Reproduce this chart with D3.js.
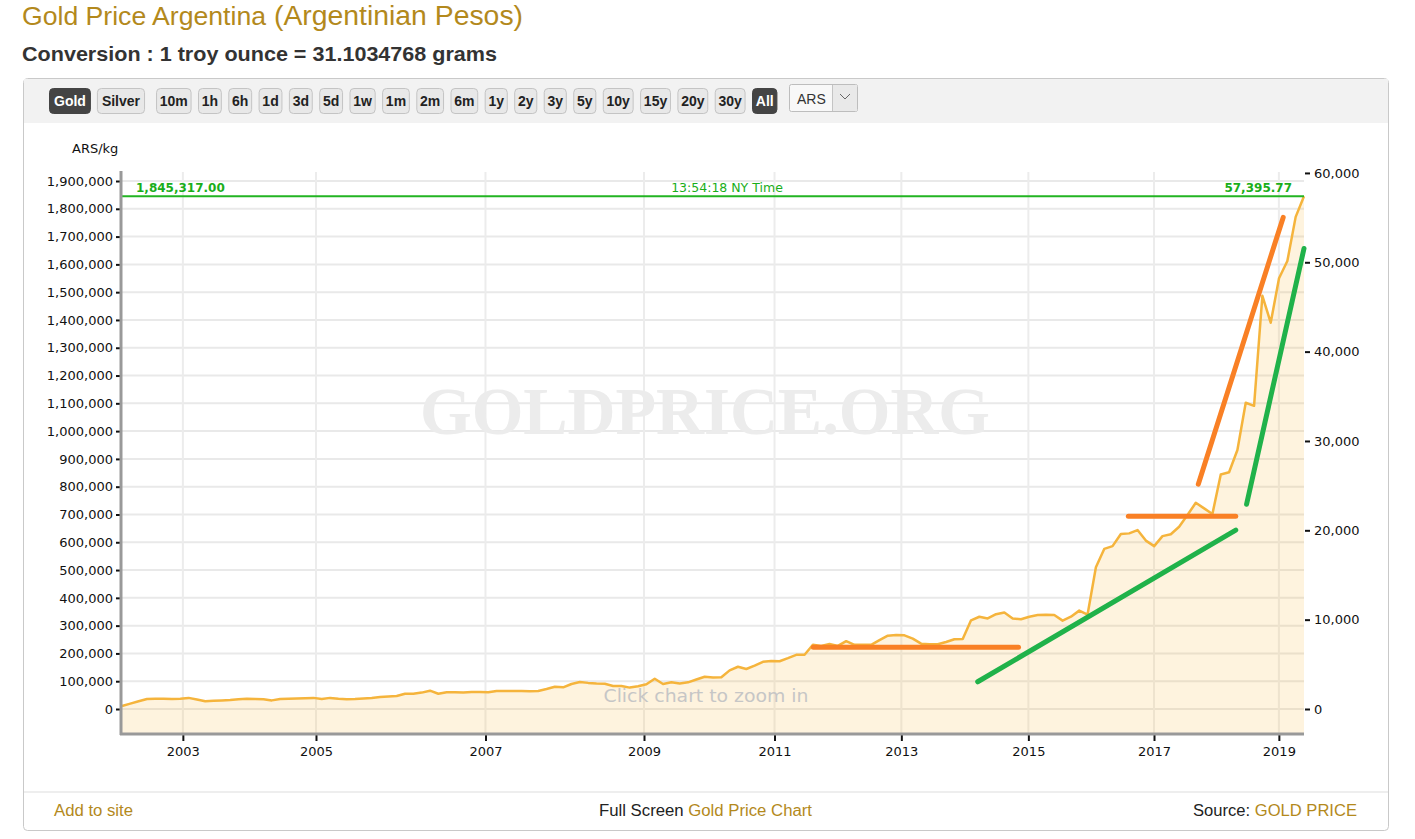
<!DOCTYPE html>
<html><head><meta charset="utf-8">
<script src="https://cdn.jsdelivr.net/npm/d3@7"></script>
<style>html,body{margin:0;padding:0;background:#fff;} svg{display:block;}</style>
</head><body><svg id="c" width="1415" height="839"></svg>
<script>
// ---------------- DATA ----------------
const pointDates = [
 "2002-02-06","2002-03-23","2002-05-07","2002-06-21","2002-08-05","2002-09-19","2002-11-03","2002-12-18",
 "2003-02-01","2003-03-19","2003-05-04","2003-06-19","2003-08-04","2003-09-19","2003-11-04","2003-12-20",
 "2004-02-04","2004-03-21","2004-05-06","2004-06-21","2004-08-06","2004-09-21","2004-11-06","2004-12-18",
 "2005-02-02","2005-03-09","2005-04-13","2005-05-18","2005-06-22","2005-07-27","2005-08-31","2005-10-05",
 "2005-11-09","2005-12-14","2006-01-18","2006-02-22","2006-03-29","2006-05-03","2006-06-07","2006-07-12",
 "2006-08-16","2006-09-20","2006-10-25","2006-12-08","2007-01-13","2007-02-20","2007-03-31","2007-05-08",
 "2007-06-16","2007-07-24","2007-09-01","2007-10-09","2007-11-17","2007-12-25","2008-02-01","2008-03-11",
 "2008-04-18","2008-05-27","2008-07-04","2008-08-11","2008-09-19","2008-10-27","2008-12-05","2009-01-12",
 "2009-02-28","2009-04-16","2009-06-01","2009-07-18","2009-09-03","2009-10-20","2009-12-06","2010-01-22",
 "2010-03-10","2010-04-26","2010-06-12","2010-07-29","2010-09-14","2010-10-31","2010-12-14","2011-01-29",
 "2011-03-18","2011-05-05","2011-06-22","2011-08-09","2011-09-26","2011-11-13","2011-12-30","2012-02-16",
 "2012-04-04","2012-05-22","2012-07-09","2012-08-26","2012-10-13","2012-11-30","2013-01-20","2013-03-09",
 "2013-04-26","2013-06-13","2013-07-31","2013-09-17","2013-11-04","2013-12-22","2014-02-08","2014-03-28",
 "2014-05-15","2014-07-02","2014-08-19","2014-10-06","2014-11-23","2015-01-06","2015-02-23","2015-04-12",
 "2015-05-30","2015-07-17","2015-09-03","2015-10-21","2015-12-08","2016-01-25","2016-03-13","2016-04-30",
 "2016-06-17","2016-08-04","2016-09-21","2016-11-12","2017-01-02","2017-02-20","2017-04-09","2017-05-28",
 "2017-07-16","2017-09-02","2017-10-21","2017-12-09","2018-01-26","2018-03-16","2018-05-03","2018-06-21",
 "2018-08-08","2018-09-25","2018-11-12","2019-01-02","2019-02-15","2019-04-01","2019-05-16"
];
const goldArsPerKg = [
 11000,19500,28000,36000,37000,37000,36000,37000,40000,34000,28000,30000,31000,32000,35000,37000,
 36000,35000,31000,36000,37000,38000,39000,40000,36000,40000,37000,35000,36000,38000,40000,43000,
 45000,47000,55000,55000,59000,66000,55000,60000,60000,59000,61000,61000,60000,65000,65000,65000,
 65000,64000,65000,72000,80000,78000,90000,97000,94000,92000,91000,83000,83000,77000,82000,89000,
 109000,90000,96000,92000,96000,106000,116000,113000,114000,139000,152000,144000,156000,170000,173000,172000,
 183000,195000,195000,231000,227000,234000,227000,244000,231000,231000,231000,248000,264000,266000,265000,253000,
 235000,233000,233000,241000,251000,252000,319000,332000,326000,341000,347000,326000,323000,332000,338000,339000,
 338000,318000,332000,354000,340000,510000,576000,586000,630000,632000,644000,606000,586000,622000,629000,656000,
 698000,742000,722000,702000,844000,852000,932000,1102000,1091000,1487000,1390000,1550000,1612000,1771000,1845317
];
const lastPriceKg = 1845317.00;
const lastPriceOz = 57395.77;
const quoteTime = "13:54:18 NY Time";
const gramsPerOunce = 31.1034768;
const leftTickValues = [0,100000,200000,300000,400000,500000,600000,700000,800000,900000,1000000,
  1100000,1200000,1300000,1400000,1500000,1600000,1700000,1800000,1900000];
const rightTickValues = [0,10000,20000,30000,40000,50000,60000];
const yearTicks = [2003,2005,2007,2009,2011,2013,2015,2017,2019];
// hand-drawn trend annotations: [point index, ARS/kg]
const orangeTrends = [
  [[83.05,222000],[107.7,222000]],
  [[120.9,694000],[133.8,694000]],
  [[129.3,809000],[139.5,1769000]]
];
const greenTrends = [
  [[102.8,98000],[133.8,644000]],
  [[135.1,737000],[142.0,1657000]]
];
const metalButtons = ["Gold","Silver"];
const rangeButtons = ["10m","1h","6h","1d","3d","5d","1w","1m","2m","6m","1y","2y","3y","5y","10y","15y","20y","30y","All"];
const currencyLabel = "ARS";

// ---------------- LAYOUT / STYLE ----------------
const plot = {left:122, right:1304, top:172, bottom:733};
const gold = "#b3891c";
const svg = d3.select("#c");
const AX = "'DejaVu Sans', Verdana, sans-serif";
const SANS = "'Liberation Sans', Arial, sans-serif";

// titles
svg.append("text").attr("x",22).attr("y",25).attr("font-family",SANS).attr("font-size",25)
  .attr("fill",gold).attr("textLength",244).attr("lengthAdjust","spacingAndGlyphs").text("Gold Price Argentina");
svg.append("text").attr("x",274).attr("y",25).attr("font-family",SANS).attr("font-size",27)
  .attr("fill",gold).attr("textLength",249).attr("lengthAdjust","spacingAndGlyphs").text("(Argentinian Pesos)");
svg.append("text").attr("x",22).attr("y",61).attr("font-family",SANS).attr("font-size",21).attr("font-weight","bold")
  .attr("fill","#333").attr("textLength",475).attr("lengthAdjust","spacingAndGlyphs")
  .text("Conversion : 1 troy ounce = " + gramsPerOunce + " grams");

// container
svg.append("rect").attr("x",23.5).attr("y",78.5).attr("width",1365).attr("height",752).attr("rx",4)
  .attr("fill","#fff").attr("stroke","#c9c9c9");
svg.append("rect").attr("x",24).attr("y",79).attr("width",1364).attr("height",44).attr("fill","#f2f2f2");
svg.append("line").attr("x1",24).attr("x2",1388).attr("y1",792).attr("y2",792).attr("stroke","#eeeeee").attr("stroke-width",2);

// buttons
const btnG = svg.append("g");
function drawButton(label, x, pad, active){
  const g = btnG.append("g");
  const t = g.append("text").attr("y",106).attr("font-family",SANS).attr("font-size",14).attr("font-weight","bold")
    .attr("fill", active ? "#fff" : "#222").text(label);
  const w = t.node().getComputedTextLength() + 2*pad;
  t.attr("x", x + pad);
  g.insert("rect","text").attr("x",x+0.5).attr("y",88.5).attr("width",w-1).attr("height",25).attr("rx",4)
    .attr("fill", active ? "#444" : "#e8e8e8").attr("stroke", active ? "#444" : "#c4c4c4");
  return x + w;
}
let bx = 49;
metalButtons.forEach((b,i)=>{ bx = drawButton(b, bx, 5, i===0) + 6; });
bx += 5;
rangeButtons.forEach((b)=>{ bx = drawButton(b, bx, 3.75, b==="All") + 6.45; });
// currency dropdown
svg.append("rect").attr("x",789.5).attr("y",84.5).attr("width",68).attr("height",27).attr("rx",2)
  .attr("fill","#f8f8f8").attr("stroke","#bdbdbd");
svg.append("rect").attr("x",832.5).attr("y",85).attr("width",24.5).attr("height",26).attr("fill","#e9e9e9");
svg.append("line").attr("x1",832.5).attr("x2",832.5).attr("y1",85).attr("y2",111).attr("stroke","#c4c4c4");
svg.append("text").attr("x",797).attr("y",104).attr("font-family",SANS).attr("font-size",14).attr("fill","#333").text(currencyLabel);
svg.append("path").attr("d","M840,94 L845,99 L850,94").attr("fill","none").attr("stroke","#666").attr("stroke-width",1);

// ---------------- SCALES ----------------
const parse = d3.utcParse("%Y-%m-%d");
const dates = pointDates.map(parse);
const N = goldArsPerKg.length;
const x = d3.scaleLinear().domain([0, N-1]).range([plot.left, plot.right]);
const y = d3.scaleLinear().domain([-86364, 1932420]).range([plot.bottom, plot.top]);
const ozPerKg = 1000 / gramsPerOunce;
const yR = d3.scaleLinear().domain(y.domain().map(v => v/ozPerKg)).range(y.range());

// ordinal (index-based) position of a date, like Highstock's ordinal axis
function ordinalIndex(t){
  const i = d3.bisectRight(dates, t) - 1;
  if (i < 0) return 0;
  if (i >= N-1) return N-1;
  return i + (t - dates[i]) / (dates[i+1] - dates[i]);
}
const yearIdx = yearTicks.map(yr => ordinalIndex(Date.UTC(yr,0,1)));

// gridlines
const grid = svg.append("g");
grid.selectAll(".hg").data(leftTickValues).join("line")
  .attr("x1",plot.left).attr("x2",plot.right).attr("y1",d=>y(d)).attr("y2",d=>y(d))
  .attr("stroke","#e9e9e9").attr("stroke-width",2);
grid.selectAll(".vg").data(yearIdx).join("line")
  .attr("x1",d=>x(d)).attr("x2",d=>x(d)).attr("y1",plot.top).attr("y2",plot.bottom)
  .attr("stroke","#ececec").attr("stroke-width",2);

// watermark
svg.append("text").attr("x",705).attr("y",434).attr("text-anchor","middle")
  .attr("font-family","'Liberation Serif', 'Times New Roman', serif").attr("font-weight","bold")
  .attr("font-size",67).attr("fill","#ececec").attr("textLength",570).attr("lengthAdjust","spacingAndGlyphs")
  .text("GOLDPRICE.ORG");

// area + line
const area = d3.area().x((d,i)=>x(i)).y0(plot.bottom).y1(d=>y(d));
const line = d3.line().x((d,i)=>x(i)).y(d=>y(d));
svg.append("path").datum(goldArsPerKg).attr("d",area).attr("fill","rgba(247,180,50,0.16)");
svg.append("path").datum(goldArsPerKg).attr("d",line).attr("fill","none")
  .attr("stroke","#f5b43c").attr("stroke-width",2.5).attr("stroke-linejoin","round");

// click to zoom
svg.append("text").attr("x",706).attr("y",702).attr("text-anchor","middle").attr("font-family",AX)
  .attr("font-size",18).attr("fill","#c6c6c6").attr("textLength",205).attr("lengthAdjust","spacingAndGlyphs")
  .text("Click chart to zoom in");

// current price line
const pY = y(lastPriceKg);
svg.append("line").attr("x1",plot.left).attr("x2",plot.right).attr("y1",pY).attr("y2",pY)
  .attr("stroke","#22b422").attr("stroke-width",2);
const fmt2 = d3.format(",.2f");
svg.append("text").attr("x",136).attr("y",pY-4).attr("font-family",AX).attr("font-size",12).attr("font-weight","bold")
  .attr("fill","#1aae1a").text(fmt2(lastPriceKg));
svg.append("text").attr("x",727).attr("y",pY-4).attr("text-anchor","middle").attr("font-family",AX).attr("font-size",12.5)
  .attr("fill","#1aae1a").text(quoteTime);
svg.append("text").attr("x",1292).attr("y",pY-4).attr("text-anchor","end").attr("font-family",AX).attr("font-size",12).attr("font-weight","bold")
  .attr("fill","#1aae1a").text(fmt2(lastPriceOz));

// trend annotations
const tl = d3.line().x(d=>x(d[0])).y(d=>y(d[1]));
svg.selectAll(".ot").data(orangeTrends).join("path").attr("d",tl).attr("fill","none")
  .attr("stroke","#f98025").attr("stroke-width",5).attr("stroke-linecap","round");
svg.selectAll(".gt").data(greenTrends).join("path").attr("d",tl).attr("fill","none")
  .attr("stroke","#20b24a").attr("stroke-width",5).attr("stroke-linecap","round");

// axes
function styleAxis(g){
  g.select(".domain").remove();
  g.selectAll(".tick line").attr("stroke","#111").attr("stroke-width",2);
  g.selectAll(".tick text").attr("font-family",AX).attr("font-size",13).attr("fill","#111");
}
svg.append("g").attr("transform",`translate(${plot.left-1},0)`)
  .call(d3.axisLeft(y).tickValues(leftTickValues).tickFormat(d3.format(",")).tickSize(5).tickPadding(3))
  .call(styleAxis);
svg.append("g").attr("transform",`translate(${plot.right+1},0)`)
  .call(d3.axisRight(yR).tickValues(rightTickValues).tickFormat(d3.format(",")).tickSize(5).tickPadding(4))
  .call(styleAxis);
svg.append("g").attr("transform",`translate(0,${plot.bottom+1})`)
  .call(d3.axisBottom(x).tickValues(yearIdx).tickFormat((d,i)=>yearTicks[i]).tickSize(7).tickPadding(6))
  .call(styleAxis);
// axis lines
svg.append("line").attr("x1",plot.left-1).attr("x2",plot.left-1).attr("y1",plot.top-1).attr("y2",plot.bottom+2)
  .attr("stroke","#999").attr("stroke-width",3);
svg.append("line").attr("x1",plot.left-2).attr("x2",plot.right).attr("y1",plot.bottom+1).attr("y2",plot.bottom+1)
  .attr("stroke","#999").attr("stroke-width",3);
svg.append("text").attr("x",72).attr("y",153).attr("font-family",AX).attr("font-size",13).attr("fill","#111").text("ARS/kg");

// footer
svg.append("text").attr("x",54).attr("y",816).attr("font-family",SANS).attr("font-size",16).attr("fill",gold)
  .attr("textLength",79).attr("lengthAdjust","spacingAndGlyphs").text("Add to site");
const f2 = svg.append("text").attr("x",599).attr("y",816).attr("font-family",SANS).attr("font-size",16)
  .attr("textLength",213).attr("lengthAdjust","spacingAndGlyphs");
f2.append("tspan").attr("fill","#222").text("Full Screen ");
f2.append("tspan").attr("fill",gold).text("Gold Price Chart");
const f3 = svg.append("text").attr("x",1193).attr("y",816).attr("font-family",SANS).attr("font-size",16)
  .attr("textLength",164).attr("lengthAdjust","spacingAndGlyphs");
f3.append("tspan").attr("fill","#222").text("Source: ");
f3.append("tspan").attr("fill",gold).text("GOLD PRICE");
</script></body></html>
